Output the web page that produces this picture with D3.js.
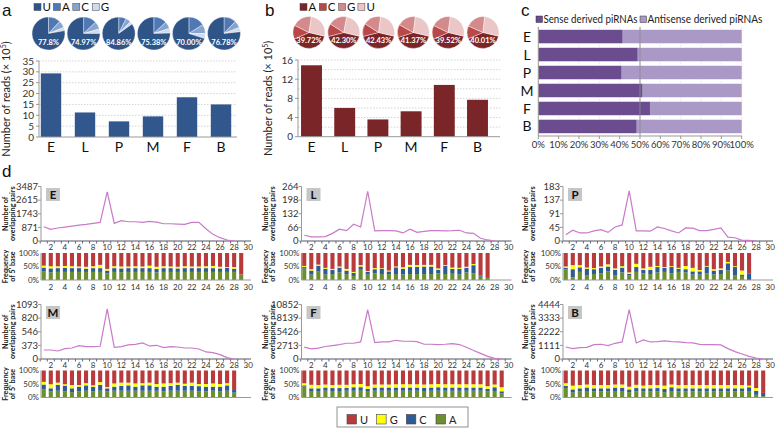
<!DOCTYPE html>
<html><head><meta charset="utf-8">
<script src="https://cdn.jsdelivr.net/npm/d3@7"></script>
<style>body{margin:0;background:#fff} svg{display:block}</style>
</head><body>
<svg id="c" width="778" height="430"></svg>
<script>
// ---------- DATA ----------
const stages = ["E","L","P","M","F","B"];
const readsA = [29.3, 11.3, 7.2, 9.5, 18.3, 15.0];
const readsB = [14.9, 6.0, 3.6, 5.3, 10.8, 7.7];
const ticksA = [0,5,10,15,20,25,30,35];
const ticksB = [0,4,8,12,16];
const gridB = [2,4,6,8,10,12,14,16];
const pieA_U = [77.8, 74.97, 84.86, 75.38, 70.00, 76.78];
const pieA_A = [12.0, 13.0, 7.5, 13.0, 16.0, 12.0];
const pieA_C = [7.0, 7.5, 5.0, 7.0, 9.0, 7.0];
const pieA_G = [3.2, 4.53, 2.64, 4.62, 5.0, 4.22];
const pieA_labels = ["77.8%","74.97%","84.86%","75.38%","70.00%","76.78%"];
const pieB_A = [39.72, 42.30, 42.43, 41.37, 39.52, 40.01];
const pieB_C = [14, 13, 13, 13, 14, 13];
const pieB_G = [20, 19, 18, 19, 20, 20];
const pieB_U = [26.28, 25.70, 26.57, 26.63, 26.48, 26.99];
const pieB_labels = ["39.72%","42.30%","42.43%","41.37%","39.52%","40.01%"];
const senseC = [41.5, 48.9, 41.0, 51.3, 54.9, 48.4];
const antisenseC = [58.5, 51.1, 59.0, 48.7, 45.1, 51.6];
const pctTicks = [0,10,20,30,40,50,60,70,80,90,100];

const positions = d3.range(1, 31);
const evenLabels = [2,4,6,8,10,12,14,16,18,20,22,24,26,28,30];

const lineE = [914,744,830,893,957,1020,1063,1127,1190,3147,1127,1297,1233,1233,1190,1254,1212,1105,1105,1084,1063,1190,1190,787,425,213,64,0];
const lineL = [28,20,20,21,37,57,50,81,68,241,49,50,50,49,39,57,42,47,50,50,49,50,52,39,37,13,5,0];
const lineP = [21,36,27,27,34,38,29,47,54,168,34,34,33,47,42,34,27,44,43,35,35,39,44,13,11,2,2,0];
const lineM = [181,181,161,208,221,268,248,248,255,1006,235,248,282,295,322,262,275,228,248,241,221,221,201,141,127,87,27,0];
const lineF = [2353,2027,2157,2484,2680,2876,3138,3138,3399,9806,3269,3399,3399,3726,3530,3530,3465,2942,2942,2876,2942,3073,2876,2353,1700,1111,523,131,0];
const lineB = [981,845,927,954,1172,1200,1091,1281,1390,4035,1309,1554,1390,1418,1472,1418,1390,1336,1309,1200,1172,1172,1145,845,600,409,218,82,0];

const yLabE = ["0","871","1743","2615","3487"];
const yLabL = ["0","66","132","198","264"];
const yLabP = ["0","45","91","137","183"];
const yLabM = ["0","373","546","820","1093"];
const yLabF = ["0","2713","5426","8139","10852"];
const yLabB = ["0","1111","2222","3333","4444"];
const yMaxD = [3487, 264, 183, 1093, 10852, 4444];
const freqTicks = ["0%","50%","100%"];

const freqE_A = [33,28,30,30,30,30,30,30,30,25,30,29,30,30,30,30,28,30,30,30,30,30,30,30,30,30,30,30,20];
const freqE_C = [13,15,14,15,14,14,12,14,14,10,14,14,14,14,14,14,13,14,14,13,14,14,14,14,14,13,15,12,0];
const freqE_G = [7,8,7,7,7,6,7,7,12,6,7,7,6,7,6,9,8,7,6,6,7,6,6,7,8,6,3,6,0];
const freqE_U = [47,49,49,48,49,50,51,49,44,59,49,50,50,49,50,47,51,49,50,51,49,50,50,49,48,51,52,52,80];

const freqL_A = [42,20,33,20,22,28,22,15,38,20,25,22,22,22,20,22,22,22,22,25,22,23,20,28,25,12,8];
const freqL_C = [6,15,20,22,15,18,13,12,12,10,15,20,10,25,22,26,27,28,28,13,30,18,22,17,30,5,0];
const freqL_G = [4,5,4,3,4,4,6,3,5,3,4,2,3,3,5,8,6,6,6,5,3,5,3,4,4,0,0];
const freqL_U = [48,60,43,55,59,50,59,70,45,67,56,56,65,50,53,44,45,44,44,57,45,54,55,51,41,83,92];

const freqP_A = [40,10,30,18,22,25,32,18,28,18,30,25,22,28,30,25,30,28,20,20,25,20,22,35,18,15,0];
const freqP_C = [5,30,17,24,18,20,18,20,18,5,18,12,15,20,15,23,12,12,12,12,25,15,15,27,30,5,25];
const freqP_G = [5,15,8,4,4,5,8,5,5,5,12,6,12,4,3,3,3,12,13,5,2,5,6,5,3,15,0];
const freqP_U = [50,45,45,54,56,50,42,57,49,72,40,57,51,48,52,49,55,48,55,63,48,60,57,33,49,65,75];

const freqM_A = [30,22,25,22,20,22,25,22,25,22,25,25,25,25,25,25,25,22,25,25,25,25,22,22,25,22,25,18];
const freqM_C = [18,12,22,22,14,18,20,18,22,12,15,18,20,15,20,20,15,18,18,22,18,18,20,18,15,18,20,10];
const freqM_G = [10,15,8,5,12,6,8,5,10,5,12,12,10,12,8,10,10,12,10,8,8,12,8,10,12,10,8,0];
const freqM_U = [42,51,45,51,54,54,47,55,43,61,48,45,45,48,47,45,50,48,47,45,49,45,50,50,48,50,47,72];

const freqF_A = [40,24,24,25,24,24,25,25,25,24,25,25,25,25,25,25,25,24,25,25,25,25,25,25,25,25,22,24,15];
const freqF_C = [5,10,10,12,11,11,11,13,13,8,12,12,12,12,12,12,12,12,12,13,12,12,12,12,12,12,10,14,8];
const freqF_G = [8,13,12,11,11,12,11,11,12,10,11,11,11,12,12,12,12,12,12,12,12,12,12,12,12,12,10,10,15];
const freqF_U = [47,53,54,52,54,53,53,51,50,58,52,52,52,51,51,51,51,52,51,50,51,51,51,51,51,51,58,52,62];

const freqB_A = [35,18,22,24,22,22,22,24,24,20,22,22,22,22,20,24,22,22,22,22,22,22,22,22,22,22,24,10,5];
const freqB_C = [8,12,12,13,12,12,12,13,12,10,13,12,12,13,12,14,12,12,12,12,12,12,12,12,12,12,14,15,12];
const freqB_G = [10,14,12,11,12,12,12,11,12,10,12,10,12,11,12,10,12,12,12,12,12,12,12,12,12,12,6,10,0];
const freqB_U = [47,56,54,52,54,54,54,52,52,60,53,56,54,54,56,52,54,54,54,54,54,54,54,54,54,54,56,65,83];

const baseKeys = ["A","C","G","U"];
const legendD = ["U","G","C","A"];

// ---------- STYLE ----------
const FONT = "Lato, 'Liberation Sans', Arial, sans-serif";
const colA = {U:"#2f5488", A:"#4f78b5", C:"#87a4cf", G:"#d0dbec"};
const colB = {A:"#7b2528", C:"#b94848", G:"#d48a8b", U:"#ebc6c6"};
const colSense = "#6b4c8e", colAnti = "#aa99c6";
const colBase = {U:"#b93a3b", G:"#ffff00", C:"#2e5b94", A:"#6b8e2e"};
const lineCol = "#c97ac8";

const svg = d3.select("#c").attr("font-family", FONT);

// panel letters
[["a",2,16],["b",265,16],["c",521,16],["d",2,177]].forEach(([t,x,y]) =>
  svg.append("text").attr("x",x).attr("y",y).attr("font-size",17)
    .attr("font-family","'Liberation Sans', Arial, sans-serif").attr("fill","#111").text(t));

// ---------- helpers ----------
function legendRow(keys, colors, x0, step, y) {
  keys.forEach((k,i) => {
    svg.append("rect").attr("x", x0 + i*step).attr("y", y).attr("width",7).attr("height",7)
      .attr("fill", colors[k]).attr("stroke","#444").attr("stroke-width",0.5);
    svg.append("text").attr("x", x0 + i*step + 8.5).attr("y", y+7.5).attr("font-size",11.5)
      .attr("fill","#111").text(k);
  });
}

function pies(xs, cy, r, keys, colors, arrays, labels, start, labDy) {
  const arc = d3.arc().innerRadius(0).outerRadius(r);
  const pie = d3.pie().sort(null).value(d => d.v).startAngle(start).endAngle(start + 2*Math.PI);
  stages.forEach((s,i) => {
    const data = keys.map((k,j) => ({k, v: arrays[j][i]}));
    const g = svg.append("g").attr("transform", `translate(${xs(s)},${cy})`);
    g.selectAll("path").data(pie(data)).join("path").attr("d", arc)
      .attr("fill", d => colors[d.data.k]).attr("stroke","#fff").attr("stroke-width",0.4);
    g.append("text").attr("y", labDy).attr("text-anchor","middle").attr("font-size",7.5)
      .attr("font-weight","bold").attr("fill","#fff").text(labels[i]);
  });
}

function barPanel(vals, xr, yDom, yRng, ticks, grid, color, axisX0, axisX1, titleX, pi) {
  const x = d3.scaleBand().domain(stages).range(xr).paddingInner(pi).paddingOuter(0.2);
  const y = d3.scaleLinear().domain(yDom).range(yRng);
  svg.append("g").selectAll("line").data(grid).join("line")
    .attr("x1", axisX0).attr("x2", axisX1).attr("y1", d => y(d)).attr("y2", d => y(d))
    .attr("stroke","#c8c8c8").attr("stroke-width",0.8).attr("stroke-dasharray","1.5,1.5");
  svg.append("g").selectAll("rect").data(vals).join("rect")
    .attr("x", (d,i) => x(stages[i])).attr("width", x.bandwidth())
    .attr("y", d => y(d)).attr("height", d => y(0) - y(d)).attr("fill", color);
  svg.append("line").attr("x1",axisX0).attr("x2",axisX0).attr("y1",y(yDom[1])).attr("y2",y(0)).attr("stroke","#999");
  svg.append("line").attr("x1",axisX0).attr("x2",axisX1).attr("y1",y(0)).attr("y2",y(0)).attr("stroke","#999");
  svg.append("g").selectAll("line").data(ticks).join("line")
    .attr("x1",axisX0-3).attr("x2",axisX0).attr("y1",d=>y(d)).attr("y2",d=>y(d)).attr("stroke","#999");
  svg.append("g").selectAll("text").data(ticks).join("text")
    .attr("x", axisX0 - 5).attr("y", d => y(d)).attr("dy","0.35em").attr("text-anchor","end")
    .attr("font-size",10).attr("fill","#333").text(d => d);
  svg.append("g").selectAll("text").data(stages).join("text")
    .attr("x", d => x(d) + x.bandwidth()/2).attr("y", y(0) + 15).attr("text-anchor","middle")
    .attr("font-size",14).attr("fill","#111").text(d => d);
  const t = svg.append("text").attr("transform", `translate(${titleX},${(y(0)+y(yDom[1]))/2}) rotate(-90)`)
    .attr("text-anchor","middle").attr("font-size",11).attr("fill","#222");
  t.append("tspan").text("Number of reads (× 10");
  t.append("tspan").attr("font-size",7).attr("dy",-4).text("5");
  t.append("tspan").attr("dy",4).text(")");
}

// ---------- PANEL A ----------
legendRow(["U","A","C","G"], colA, 34, 19.4, 3.5);
pies(d3.scalePoint().domain(stages).range([48.5, 224]), 33.5, 16.5,
     ["A","C","G","U"], colA, [pieA_A, pieA_C, pieA_G, pieA_U], pieA_labels, 0, 11.5);
barPanel(readsA, [34, 238], [0,35], [137, 61], ticksA, ticksA.slice(1), "#31578c", 39, 237, 10, 0.4);

// ---------- PANEL B ----------
legendRow(["A","C","G","U"], colB, 300, 19.3, 3.5);
pies(d3.scalePoint().domain(stages).range([309, 483]), 32.5, 16,
     ["A","C","G","U"], colB, [pieB_A, pieB_C, pieB_G, pieB_U], pieB_labels, 1.8, 10);
barPanel(readsB, [294.4, 494.6], [0,16], [136.7, 60], ticksB, gridB, "#7a2528", 298, 500, 272, 0.37);

// ---------- PANEL C ----------
{
  const x = d3.scaleLinear().domain([0,100]).range([538.3, 741.7]);
  const y = d3.scaleBand().domain(stages).range([28, 135]).paddingInner(0.25).paddingOuter(0.1);
  svg.append("rect").attr("x",536).attr("y",16).attr("width",6.5).attr("height",6.5).attr("fill",colSense).attr("stroke","#333").attr("stroke-width",0.5);
  svg.append("text").attr("x",543.5).attr("y",22.5).attr("font-size",11).attr("fill","#222")
    .attr("textLength",94).attr("lengthAdjust","spacingAndGlyphs").text("Sense derived piRNAs");
  svg.append("rect").attr("x",640).attr("y",16).attr("width",6.5).attr("height",6.5).attr("fill",colAnti).attr("stroke","#333").attr("stroke-width",0.5);
  svg.append("text").attr("x",647.5).attr("y",22.5).attr("font-size",11).attr("fill","#222")
    .attr("textLength",115).attr("lengthAdjust","spacingAndGlyphs").text("Antisense derived piRNAs");
  svg.append("g").selectAll("line").data(pctTicks).join("line")
    .attr("x1",d=>x(d)).attr("x2",d=>x(d)).attr("y1",27).attr("y2",136)
    .attr("stroke","#d8d8d8").attr("stroke-width",0.7).attr("stroke-dasharray","1.5,1.5");
  svg.append("g").selectAll("rect").data(senseC).join("rect")
    .attr("x", x(0)).attr("width", d => x(d) - x(0))
    .attr("y", (d,i) => y(stages[i])).attr("height", y.bandwidth()).attr("fill", colSense);
  svg.append("g").selectAll("rect").data(antisenseC).join("rect")
    .attr("x", (d,i) => x(senseC[i])).attr("width", d => x(d) - x(0))
    .attr("y", (d,i) => y(stages[i])).attr("height", y.bandwidth()).attr("fill", colAnti);
  svg.append("line").attr("x1",x(50)).attr("x2",x(50)).attr("y1",27).attr("y2",136).attr("stroke","#8a8a8a").attr("stroke-width",0.9);
  svg.append("line").attr("x1",x(0)).attr("x2",x(0)).attr("y1",27).attr("y2",136).attr("stroke","#999");
  svg.append("line").attr("x1",x(0)).attr("x2",x(100)).attr("y1",136).attr("y2",136).attr("stroke","#999");
  svg.append("g").selectAll("line.t").data(pctTicks).join("line")
    .attr("x1",d=>x(d)).attr("x2",d=>x(d)).attr("y1",136).attr("y2",139).attr("stroke","#999");
  svg.append("g").selectAll("text").data(pctTicks).join("text")
    .attr("x", d => x(d)).attr("y", 148).attr("text-anchor","middle").attr("font-size",9.5)
    .attr("fill","#333").text(d => d + "%");
  svg.append("g").selectAll("text").data(stages).join("text")
    .attr("x", 527).attr("y", d => y(d) + y.bandwidth()/2).attr("dy","0.36em")
    .attr("text-anchor","middle").attr("font-size",14).attr("fill","#111").text(d => d);
}

// ---------- PANEL D ----------
const dLines = [lineE, lineL, lineP, lineM, lineF, lineB];
const dYLabs = [yLabE, yLabL, yLabP, yLabM, yLabF, yLabB];
const dFreq = [
  [freqE_A, freqE_C, freqE_G, freqE_U],
  [freqL_A, freqL_C, freqL_G, freqL_U],
  [freqP_A, freqP_C, freqP_G, freqP_U],
  [freqM_A, freqM_C, freqM_G, freqM_U],
  [freqF_A, freqF_C, freqF_G, freqF_U],
  [freqB_A, freqB_C, freqB_G, freqB_U]
];
const colLeft = [41, 301.5, 563];
const colX0 = [0, 260, 520];
const rowLay = [
  {lt:186.5, lb:241, bt:253, bb:280, llab:249.5, blab:290},
  {lt:304.5, lb:359, bt:370.5, bb:397.5, llab:367.5, blab:null}
];

stages.forEach((s, i) => {
  const col = i % 3, row = Math.floor(i / 3);
  const L = rowLay[row], left = colLeft[col], W = 210;
  const x = d3.scaleBand().domain(positions).range([left, left + W]).paddingInner(0.42).paddingOuter(0.1);
  const xc = k => x(k) + x.bandwidth() / 2;
  const yMax = yMaxD[i];
  const y = d3.scaleLinear().domain([0, yMax]).range([L.lb, L.lt]);
  const g = svg.append("g");

  // line chart axes
  g.append("line").attr("x1",left).attr("x2",left).attr("y1",L.lt).attr("y2",L.lb).attr("stroke","#999");
  g.append("line").attr("x1",left).attr("x2",left+W).attr("y1",L.lb).attr("y2",L.lb).attr("stroke","#556");
  const yt = dYLabs[i].map((lab, j) => ({lab, v: yMax * j / 4}));
  g.selectAll("line.yt").data(yt).join("line").attr("class","yt")
    .attr("x1",left-3).attr("x2",left).attr("y1",d=>y(d.v)).attr("y2",d=>y(d.v)).attr("stroke","#999");
  g.selectAll("text.yt").data(yt).join("text").attr("class","yt")
    .attr("x", left - 3).attr("y", d => y(d.v)).attr("dy","0.35em").attr("text-anchor","end")
    .attr("font-size",9.5).attr("fill","#333").text(d => d.lab);
  g.selectAll("line.xt").data(positions).join("line").attr("class","xt")
    .attr("x1",d=>x(d)-x.step()*0.21).attr("x2",d=>x(d)-x.step()*0.21).attr("y1",L.lb).attr("y2",L.lb+2.5).attr("stroke","#667");
  g.selectAll("text.xl").data(evenLabels).join("text").attr("class","xl")
    .attr("x", d => xc(d)).attr("y", L.llab).attr("text-anchor","middle")
    .attr("font-size",8).attr("fill","#333").text(d => d);

  // line
  g.append("path").datum(dLines[i])
    .attr("d", d3.line().x((d,k) => xc(k+1)).y(d => y(d)))
    .attr("fill","none").attr("stroke", lineCol).attr("stroke-width",1.2);

  // letter box
  g.append("rect").attr("x", left + 5).attr("y", L.lt + 1.5).attr("width",14).attr("height",13).attr("fill","#c6c6c6");
  g.append("text").attr("x", left + 12).attr("y", L.lt + 12.5).attr("text-anchor","middle")
    .attr("font-size",11.5).attr("font-weight","bold").attr("fill","#111").text(s);

  // axis titles
  const tx = colX0[col];
  [["Number of", 8], ["overlapping pairs", 15]].forEach(([t, dx]) =>
    g.append("text").attr("transform", `translate(${tx+dx},${(L.lt+L.lb)/2}) rotate(-90)`)
      .attr("text-anchor","middle").attr("font-size",7.2).attr("font-weight","bold").attr("fill","#222").text(t));
  [["Frequency", 8], ["of 5' base", 15]].forEach(([t, dx]) =>
    g.append("text").attr("transform", `translate(${tx+dx},${(L.bt+L.bb)/2}) rotate(-90)`)
      .attr("text-anchor","middle").attr("font-size",7.2).attr("font-weight","bold").attr("fill","#222").text(t));

  // frequency stacked bars
  const yb = d3.scaleLinear().domain([0,100]).range([L.bb, L.bt]);
  const fr = dFreq[i];
  const rows = fr[0].map((_, k) => ({pos: k + 1, A: fr[0][k], C: fr[1][k], G: fr[2][k], U: fr[3][k]}));
  const series = d3.stack().keys(baseKeys)(rows);
  g.selectAll("g.ser").data(series).join("g").attr("class","ser").attr("fill", d => colBase[d.key])
    .selectAll("rect").data(d => d).join("rect")
    .attr("x", d => x(d.data.pos)).attr("width", x.bandwidth())
    .attr("y", d => yb(d[1])).attr("height", d => yb(d[0]) - yb(d[1]));
  g.append("line").attr("x1",left).attr("x2",left).attr("y1",L.bt).attr("y2",L.bb).attr("stroke","#999");
  g.append("line").attr("x1",left).attr("x2",left+W).attr("y1",L.bb).attr("y2",L.bb).attr("stroke","#999");
  const ft = freqTicks.map((lab, j) => ({lab, v: j * 50}));
  g.selectAll("text.ft").data(ft).join("text").attr("class","ft")
    .attr("x", left - 2).attr("y", d => yb(d.v)).attr("dy","0.35em").attr("text-anchor","end")
    .attr("font-size",8).attr("fill","#333").text(d => d.lab);
  if (L.blab !== null) {
    g.selectAll("text.bl").data(evenLabels).join("text").attr("class","bl")
      .attr("x", d => xc(d)).attr("y", L.blab).attr("text-anchor","middle")
      .attr("font-size",8).attr("fill","#333").text(d => d);
  }
});

// legend d
{
  svg.append("rect").attr("x",337).attr("y",407).attr("width",131).attr("height",20)
    .attr("fill","#fff").attr("stroke","#777").attr("stroke-width",0.8);
  const lx = d3.scalePoint().domain(legendD).range([347, 436]);
  legendD.forEach(k => {
    svg.append("rect").attr("x", lx(k)).attr("y", 414.5).attr("width",9.5).attr("height",9.5)
      .attr("fill", colBase[k]).attr("stroke","#444").attr("stroke-width",0.6);
    svg.append("text").attr("x", lx(k) + 13).attr("y", 423.5).attr("font-size",11).attr("fill","#222").text(k);
  });
}
</script>
</body></html>
